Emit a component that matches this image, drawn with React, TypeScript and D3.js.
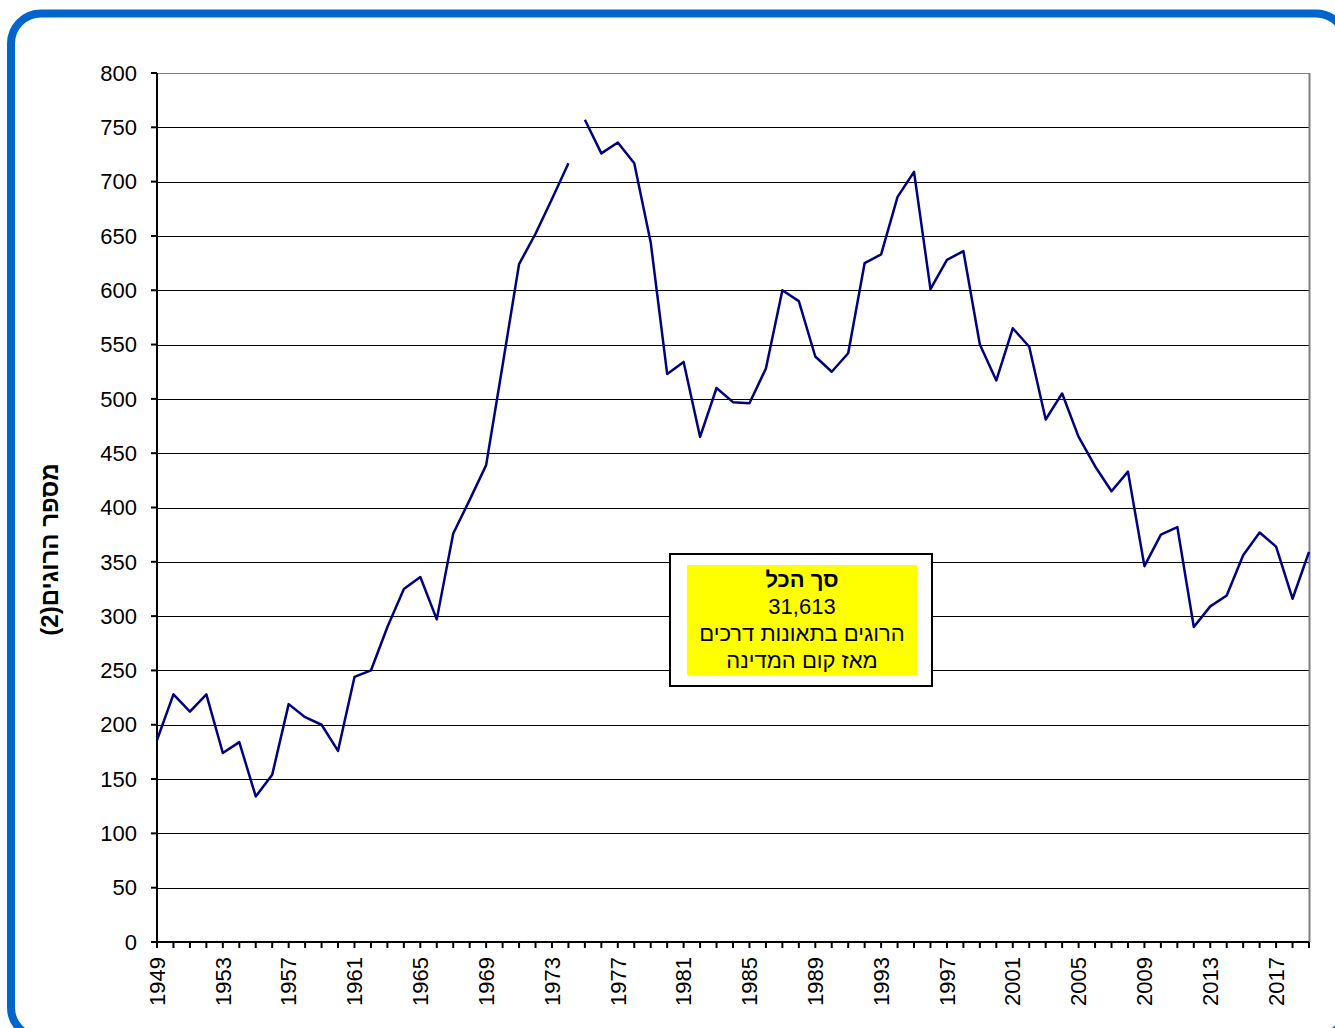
import React from "react";
import * as d3 from "d3";

// road deaths per year
const years = [
  1949, 1950, 1951, 1952, 1953, 1954, 1955, 1956, 1957, 1958, 1959, 1960,
  1961, 1962, 1963, 1964, 1965, 1966, 1967, 1968, 1969, 1970, 1971, 1972,
  1973, 1974, 1975, 1976, 1977, 1978, 1979, 1980, 1981, 1982, 1983, 1984,
  1985, 1986, 1987, 1988, 1989, 1990, 1991, 1992, 1993, 1994, 1995, 1996,
  1997, 1998, 1999, 2000, 2001, 2002, 2003, 2004, 2005, 2006, 2007, 2008,
  2009, 2010, 2011, 2012, 2013, 2014, 2015, 2016, 2017, 2018, 2019,
];
const deaths = [
  186, 228, 212, 228, 174, 184, 134, 154, 219, 207, 200, 176,
  244, 250, 290, 325, 336, 297, 376, 407, 439, 531, 624, 652,
  684, 717, 757, 726, 736, 717, 644, 523, 534, 465, 510, 497,
  496, 528, 600, 590, 539, 525, 542, 625, 633, 686, 709, 601,
  628, 636, 550, 517, 565, 548, 481, 505, 465, 438, 415, 433,
  346, 375, 382, 290, 309, 319, 356, 377, 364, 316, 359,
];
// the line is broken before this year
const breakYear = 1975;
const yTicks = [0, 50, 100, 150, 200, 250, 300, 350, 400, 450, 500, 550, 600, 650, 700, 750, 800];
const labelYears = years.filter((y) => (y - 1949) % 4 === 0);
const boxLines = ["סך הכל", "31,613", "הרוגים בתאונות דרכים", "מאז קום המדינה"];
const yTitle = "מספר הרוגים(2)";

const W = 1335;
const H = 1028;
const left = 157;
const right = 1309;
const top = 73;
const bottom = 942;
const font = "'Liberation Sans', Arial, sans-serif";

export default function App() {
  const x = d3.scaleLinear().domain([1949, 2019]).range([left, right]);
  const y = d3.scaleLinear().domain([0, 800]).range([bottom, top]);

  const points = years.map((yr, i) => ({ yr, v: deaths[i] }));
  const segments = [
    points.filter((p) => p.yr < breakYear),
    points.filter((p) => p.yr >= breakYear),
  ];
  const line = d3
    .line<{ yr: number; v: number }>()
    .x((d) => x(d.yr))
    .y((d) => y(d.v));

  return (
    <svg
      width={W}
      height={H}
      style={{ position: "absolute", left: 0, top: 0, background: "#fff" }}
      fontFamily={font}
    >
      {/* frame runs off the right and bottom edges */}
      <rect x={11} y={13.5} width={1335} height={1024} rx={30} fill="#fff" stroke="#0066cc" strokeWidth={8} />

      {/* grid */}
      {yTicks.map((t) => (
        <line key={t} x1={left} x2={right} y1={Math.round(y(t)) + 0.5} y2={Math.round(y(t)) + 0.5} stroke={t === 800 ? "#808080" : "#000"} strokeWidth={1} />
      ))}
      <line x1={right + 0.5} x2={right + 0.5} y1={top} y2={bottom} stroke="#808080" strokeWidth={2} />

      {/* y axis */}
      <line x1={left} x2={left} y1={top} y2={bottom + 1} stroke="#000" strokeWidth={2} />
      {yTicks.map((t) => (
        <g key={t}>
          <line x1={left - 6} x2={left} y1={y(t)} y2={y(t)} stroke="#000" strokeWidth={2} />
          <text x={137} y={y(t)} dy="0.35em" textAnchor="end" fontSize={22}>
            {t}
          </text>
        </g>
      ))}

      {/* x axis */}
      <line x1={left} x2={right} y1={bottom} y2={bottom} stroke="#000" strokeWidth={2} />
      {years.map((yr) => (
        <line key={yr} x1={x(yr)} x2={x(yr)} y1={bottom} y2={bottom + 6} stroke="#000" strokeWidth={2} />
      ))}
      {labelYears.map((yr) => (
        <text
          key={yr}
          transform={`translate(${x(yr)},${bottom + 15}) rotate(-90)`}
          textAnchor="end"
          dy="0.35em"
          fontSize={22}
        >
          {yr}
        </text>
      ))}

      <text
        transform={`translate(50,${(top + bottom) / 2 + 42}) rotate(-90)`}
        textAnchor="middle"
        dy="0.35em"
        fontSize={24}
        fontWeight="bold"
        direction="rtl"
      >
        {yTitle}
      </text>

      {/* data */}
      {segments.map((s, i) => (
        <path key={i} d={line(s) || ""} fill="none" stroke="#000080" strokeWidth={2.5} strokeLinejoin="round" />
      ))}

      {/* total box */}
      <rect x={670} y={554} width={262} height={132} fill="#fff" stroke="#000" strokeWidth={2} />
      <rect x={687} y={565} width={230} height={110} fill="#ffff00" />
      {boxLines.map((t, i) => (
        <text
          key={i}
          x={802}
          y={587 + i * 27}
          textAnchor="middle"
          fontSize={22}
          fontWeight={i === 0 ? "bold" : "normal"}
          direction="rtl"
        >
          {t}
        </text>
      ))}
    </svg>
  );
}
